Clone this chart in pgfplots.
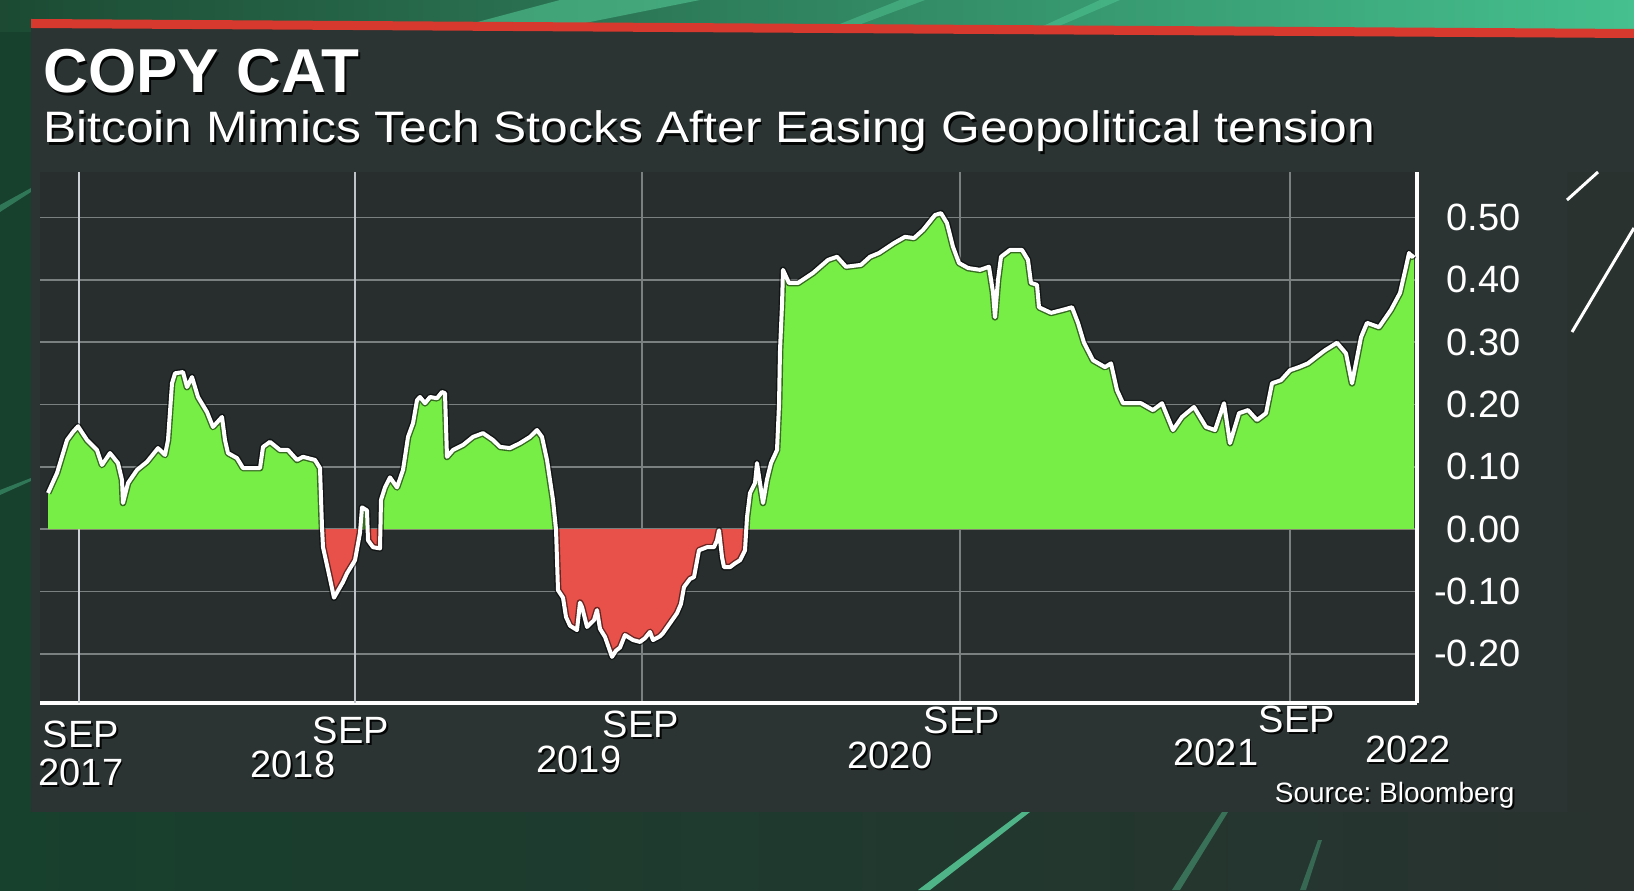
\documentclass[border=0pt]{standalone}
\usepackage{pgfplots}
\pgfplotsset{compat=1.18}
\usepackage{pgfplotstable}
\usepackage{fontspec}
\setmainfont{Liberation Sans}
\definecolor{cgreen}{HTML}{77EE45}
\definecolor{cred}{HTML}{E8504A}
\definecolor{panel}{HTML}{2C3333}
\definecolor{panelr}{HTML}{29322F}
\definecolor{plotbg}{HTML}{272E2D}
\definecolor{outerbg}{HTML}{17402D}
\definecolor{gridgray}{HTML}{7A8080}
\definecolor{topred}{HTML}{D8392E}
\definecolor{streak}{HTML}{5FE0A8}
\definecolor{topgreen}{HTML}{45C08E}
\definecolor{topdark}{HTML}{1C4A33}
\definecolor{gridA}{HTML}{CDD2D7}
\definecolor{gridB}{HTML}{BEC3C8}
\newcommand{\stext}[4][]{%
  \node[#1,text=black,opacity=0.9] at ({#2+1.8},{#3+2.2}) {#4};%
  \node[#1] at (#2,#3) {#4};}

% x = horizontal position (px of the 1634-wide chart), y = correlation
\pgfplotstableread{
x y
48 0.058
57 0.09
67 0.143
73 0.156
78 0.165
87 0.143
97 0.127
102 0.103
110 0.122
118 0.106
122 0.079
123 0.042
128 0.074
137 0.095
147 0.108
158 0.13
165 0.119
168 0.143
172 0.234
175 0.250
183 0.252
187 0.228
192 0.244
198 0.212
207 0.188
213 0.164
222 0.180
225 0.143
228 0.122
237 0.114
243 0.098
260 0.098
263 0.132
270 0.140
280 0.127
288 0.127
297 0.111
303 0.116
315 0.111
320 0.098
322 0.003
323 -0.029
330 -0.08
334 -0.11
343 -0.085
347 -0.071
355 -0.05
360 -0.006
362 0.035
367 0.03
368 -0.018
373 -0.029
380 -0.031
381 0.047
385 0.067
390 0.083
397 0.067
403 0.095
408 0.148
413 0.170
417 0.207
420 0.212
425 0.202
430 0.212
437 0.210
442 0.22
445 0.218
447 0.116
453 0.127
463 0.135
473 0.148
483 0.154
493 0.143
500 0.132
510 0.130
520 0.138
530 0.148
537 0.159
542 0.148
547 0.111
553 0.047
556 0.0
558 -0.098
563 -0.11
566 -0.141
570 -0.155
577 -0.162
580 -0.118
582 -0.125
587 -0.157
594 -0.146
597 -0.13
600 -0.16
605 -0.173
612 -0.205
616 -0.195
620 -0.19
625 -0.17
633 -0.178
640 -0.181
645 -0.175
650 -0.165
653 -0.178
660 -0.172
663 -0.167
670 -0.151
677 -0.135
681 -0.12
684 -0.093
690 -0.08
694 -0.077
699 -0.034
707 -0.029
714 -0.029
717 -0.018
719 -0.002
722 -0.045
724 -0.061
730 -0.061
735 -0.055
740 -0.05
745 -0.034
747 0.019
750 0.058
755 0.074
757 0.106
763 0.042
767 0.08
771 0.106
777 0.127
779 0.2
780 0.287
782 0.36
783 0.416
789 0.395
798 0.395
813 0.411
828 0.432
837 0.437
846 0.421
861 0.424
870 0.437
879 0.443
894 0.459
905 0.469
914 0.467
923 0.48
935 0.504
941 0.507
947 0.491
953 0.453
959 0.427
968 0.419
980 0.416
989 0.421
993 0.38
995 0.340
998 0.40
1001 0.437
1010 0.448
1022 0.448
1028 0.432
1031 0.395
1037 0.392
1039 0.356
1051 0.347
1063 0.352
1072 0.356
1078 0.331
1084 0.299
1093 0.271
1105 0.26
1111 0.266
1117 0.223
1123 0.202
1141 0.202
1153 0.191
1162 0.202
1173 0.159
1182 0.18
1194 0.196
1206 0.164
1215 0.159
1224 0.202
1230 0.138
1239 0.186
1248 0.191
1257 0.175
1266 0.186
1272 0.234
1281 0.239
1290 0.255
1299 0.26
1308 0.266
1316 0.276
1325 0.287
1337 0.299
1346 0.282
1352 0.234
1361 0.308
1367 0.331
1379 0.324
1391 0.352
1400 0.379
1406 0.421
1409 0.443
1412 0.437
1414 0.44
}\data

\begin{document}
\frenchspacing
\begin{tikzpicture}
\path[use as bounding box] (0,0) rectangle (817pt,445pt);
\fill[outerbg] (0,0) rectangle (817pt,445pt);
\begin{scope}[x=0.5pt,y=-0.5pt,yshift=445pt]
  % top strip
  \shade[left color=topdark, right color=topgreen] (0,0) rectangle (1634,32);
  \fill[streak, opacity=0.45] (440,32) -- (560,0) -- (700,0) -- (540,32) -- cycle;
  \fill[streak, opacity=0.35] (820,32) -- (900,0) -- (925,0) -- (840,32) -- cycle;
  \fill[streak, opacity=0.35] (1030,32) -- (1100,0) -- (1120,0) -- (1045,32) -- cycle;
  % left streaks
  \fill[streak, opacity=0.35] (0,205) -- (31,188) -- (31,192) -- (0,212) -- cycle;
  \fill[streak, opacity=0.35] (0,490) -- (31,478) -- (31,481) -- (0,495) -- cycle;
  % panel
  \fill[panel] (31,27) -- (1634,37) -- (1634,812) -- (31,812) -- cycle;
  \fill[panelr] (1567,172) rectangle (1634,812);
  % bottom band
  \shade[left color=outerbg, right color=panelr] (0,812) rectangle (1634,890);
  % red rule
  \fill[topred] (31,19) -- (1634,29) -- (1634,38) -- (31,28) -- cycle;
  % slashes on the right
  \draw[white, line width=1.5pt] (1567,200) -- (1598,172);
  \draw[white, line width=1.5pt] (1572,332) -- (1634,228);
  % bottom streaks
  \fill[streak, opacity=0.75] (918,890) -- (1022,812) -- (1030,812) -- (930,890) -- cycle;
  \fill[streak, opacity=0.35] (1172,890) -- (1222,812) -- (1228,812) -- (1180,890) -- cycle;
  \fill[streak, opacity=0.30] (1300,890) -- (1318,840) -- (1322,840) -- (1306,890) -- cycle;
\end{scope}

\begin{axis}[
  at={(20pt,93.5pt)}, anchor=south west, scale only axis,
  width=688.5pt, height=265.5pt,
  xmin=40, xmax=1417, ymin=-0.279, ymax=0.573,
  axis x line*=bottom, axis y line*=right,
  axis line style={-, white, line width=1.8pt},
  axis background/.style={fill=plotbg},
  xtick={79,355,642,960,1290}, xticklabels={},
  ytick={-0.2,-0.1,0,0.1,0.2,0.3,0.4,0.5},
  yticklabels={-0.20,-0.10,0.00,0.10,0.20,0.30,0.40,0.50},
  yticklabel style={anchor=east, xshift=52pt, inner sep=0pt, text=white,
    font=\fontsize{19}{22}\selectfont},
  major tick length=0pt,
  grid=major, major grid style={gridgray, line width=0.75pt},
]
\draw[gridA, line width=1.3pt] (axis cs:79,-0.279) -- (axis cs:79,0.573);
\draw[gridB, line width=1.1pt] (axis cs:355,-0.279) -- (axis cs:355,0.573);
\begin{scope}
  \clip (axis cs:40,0) rectangle (axis cs:1417,0.573);
  \addplot[fill=cgreen, draw=none] table {\data} \closedcycle;
\end{scope}
\begin{scope}
  \clip (axis cs:40,-0.279) rectangle (axis cs:1417,0);
  \addplot[fill=cred, draw=none] table {\data} \closedcycle;
\end{scope}
\addplot[black, opacity=0.55, line width=3.4pt, line join=round] table {\data};
\addplot[white, line width=2pt, line join=round] table {\data};
\end{axis}

\begin{scope}[x=0.5pt,y=-0.5pt,yshift=445pt, every node/.style={text=white, inner sep=0pt}]
  \stext[anchor=base west, font=\bfseries\fontsize{31}{31}\selectfont]{43}{93}{COPY CAT}
  \stext[anchor=base west, font=\fontsize{22}{22}\selectfont]{43}{143}{\scalebox{1.13}[1]{Bitcoin Mimics Tech Stocks After Easing Geopolitical tension}}
  \begin{scope}[every node/.append style={anchor=base, font=\fontsize{19}{22}\selectfont}]
    \stext{81}{747}{SEP}
    \stext{81}{785}{2017}
    \stext{351}{743}{SEP}
    \stext{293}{777}{2018}
    \stext{641}{737}{SEP}
    \stext{579}{772}{2019}
    \stext{962}{733}{SEP}
    \stext{890}{768}{2020}
    \stext{1297}{732}{SEP}
    \stext{1216}{765}{2021}
    \stext{1408}{762}{2022}
  \end{scope}
  \stext[anchor=base east, font=\fontsize{14}{14}\selectfont]{1515}{802}{Source: Bloomberg}
\end{scope}
\end{tikzpicture}
\end{document}
